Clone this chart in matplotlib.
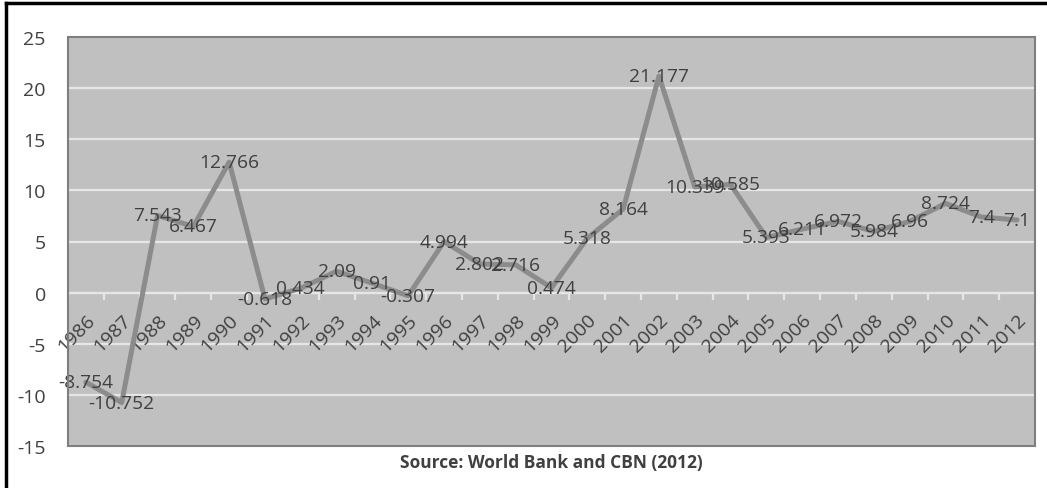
import matplotlib
matplotlib.use("Agg")
import matplotlib.pyplot as plt
from matplotlib.patches import Rectangle
import numpy as np

years = [1986, 1987, 1988, 1989, 1990, 1991, 1992, 1993, 1994, 1995, 1996, 1997, 1998,
         1999, 2000, 2001, 2002, 2003, 2004, 2005, 2006, 2007, 2008, 2009, 2010, 2011, 2012]
values = [-8.754, -10.752, 7.543, 6.467, 12.766, -0.618, 0.434, 2.09, 0.91, -0.307, 4.994,
          2.802, 2.716, 0.474, 5.318, 8.164, 21.177, 10.339, 10.585, 5.393, 6.211, 6.972,
          5.984, 6.96, 8.724, 7.4, 7.1]
labels = ["-8.754", "-10.752", "7.543", "6.467", "12.766", "-0.618", "0.434", "2.09", "0.91",
          "-0.307", "4.994", "2.802", "2.716", "0.474", "5.318", "8.164", "21.177", "10.339",
          "10.585", "5.393", "6.211", "6.972", "5.984", "6.96", "8.724", "7.4", "7.1"]
yticks = [-15, -10, -5, 0, 5, 10, 15, 20, 25]
source = "Source: World Bank and CBN (2012)"

plt.rcParams['font.family'] = ['Open Sans', 'DejaVu Sans']
txt = '#404040'

fig = plt.figure(figsize=(10.47, 4.89), dpi=100)
fig.patch.set_facecolor('white')
W, H = 1047, 489
ax = fig.add_axes([68 / W, 1 - 447 / H, (1035 - 68) / W, (447 - 38) / H])
ax.set_facecolor('#c0c0c0')

n = len(years)
x = np.arange(n)
ax.set_xlim(-0.5, n - 0.5)
ax.set_ylim(-15, 25)

for yv in yticks:
    if yv not in (-15, 25):
        ax.axhline(yv, color='#e6e6e6', lw=1.6, zorder=1)

ax.plot(x, values, color='#8c8c8c', lw=3.6, solid_capstyle='round', solid_joinstyle='round', zorder=3)
for xi, v, lab in zip(x, values, labels):
    ax.text(xi, v, lab, ha='center', va='center', fontsize=13.8, color=txt, zorder=4)

ax.set_yticks(yticks)
ax.set_yticklabels([str(t) for t in yticks], fontsize=14, color=txt)
ax.tick_params(axis='y', length=0, pad=16)

for s in ['left', 'right', 'top']:
    ax.spines[s].set_visible(False)
ax.spines['bottom'].set_position(('data', 0))
ax.spines['bottom'].set_color('#e6e6e6')
ax.spines['bottom'].set_linewidth(1.6)
ax.spines['bottom'].set_zorder(2)

ax.set_xticks(x)
ax.set_xticklabels([str(y) for y in years], rotation=45, ha='right', rotation_mode='anchor',
                   fontsize=14, color=txt)
ax.set_xticks(np.arange(n + 1) - 0.5, minor=True)
ax.tick_params(axis='x', which='major', length=0, pad=13)
ax.tick_params(axis='x', which='minor', length=5, width=1.6, color='#e6e6e6', direction='out')

frame = Rectangle((0, 0), 1, 1, transform=ax.transAxes, fill=False, edgecolor='#7f7f7f',
                  lw=1.5, clip_on=False, zorder=5)
ax.add_patch(frame)

fig.text(551 / W, 1 - 463 / H, source, ha='center', va='center', fontsize=12.5,
         fontweight='bold', color=txt)

# outer black border (top and left)
fig.add_artist(plt.Line2D([6 / W, 6 / W], [0, 1 - 4 / H], transform=fig.transFigure,
                          color='black', lw=2.5))
fig.add_artist(plt.Line2D([6 / W, 1], [1 - 4 / H, 1 - 4 / H], transform=fig.transFigure,
                          color='black', lw=2.5))

fig.savefig('out.png', dpi=100)
